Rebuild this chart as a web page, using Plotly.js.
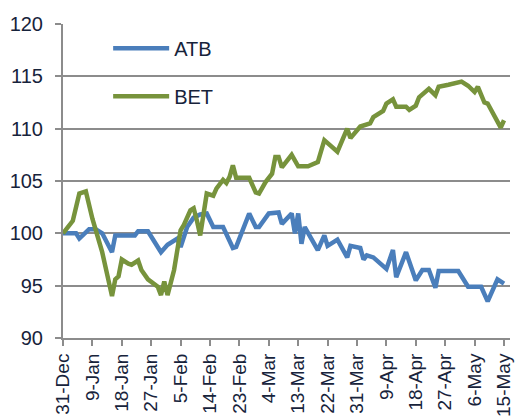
<!DOCTYPE html>
<html>
<head>
<meta charset="utf-8">
<script src="https://cdn.plot.ly/plotly-3.0.1.min.js"></script>
<style>html,body{margin:0;padding:0;background:#fff}#chart{width:516px;height:416px}</style>
</head>
<body>
<div id="chart"></div>
<script>
const atbDates = ["2014-12-31","2015-01-04","2015-01-05","2015-01-08","2015-01-10","2015-01-12","2015-01-15","2015-01-16","2015-01-22","2015-01-23","2015-01-26","2015-01-30","2015-02-01","2015-02-04","2015-02-05","2015-02-07","2015-02-09","2015-02-11","2015-02-13","2015-02-15","2015-02-18","2015-02-21","2015-02-22","2015-02-26","2015-02-28","2015-03-01","2015-03-04","2015-03-07","2015-03-08","2015-03-11","2015-03-12","2015-03-13","2015-03-14","2015-03-15","2015-03-19","2015-03-21","2015-03-22","2015-03-25","2015-03-28","2015-03-29","2015-04-01","2015-04-02","2015-04-03","2015-04-05","2015-04-09","2015-04-11","2015-04-12","2015-04-15","2015-04-18","2015-04-20","2015-04-22","2015-04-24","2015-04-25","2015-05-01","2015-05-04","2015-05-08","2015-05-10","2015-05-13","2015-05-15"];
const atbValues = [100.0,100.0,99.5,100.4,100.4,100.0,98.2,99.8,99.8,100.2,100.2,98.2,98.9,99.5,98.7,100.6,101.5,101.8,101.9,100.6,100.6,98.6,98.7,101.9,100.6,100.6,101.9,102.0,100.9,101.9,100.0,101.9,99.0,100.6,98.4,99.8,98.8,99.4,97.7,98.8,98.6,97.5,97.9,97.7,96.6,98.4,95.8,98.2,95.5,96.5,96.5,94.8,96.4,96.4,94.9,94.9,93.5,95.6,95.2];
const betDates = ["2014-12-31","2015-01-03","2015-01-05","2015-01-07","2015-01-09","2015-01-10","2015-01-12","2015-01-15","2015-01-16","2015-01-17","2015-01-18","2015-01-20","2015-01-21","2015-01-23","2015-01-24","2015-01-26","2015-01-29","2015-01-30","2015-01-31","2015-02-01","2015-02-03","2015-02-05","2015-02-06","2015-02-08","2015-02-09","2015-02-10","2015-02-11","2015-02-13","2015-02-15","2015-02-16","2015-02-18","2015-02-19","2015-02-20","2015-02-21","2015-02-22","2015-02-26","2015-02-28","2015-03-01","2015-03-03","2015-03-05","2015-03-06","2015-03-07","2015-03-08","2015-03-11","2015-03-13","2015-03-16","2015-03-19","2015-03-21","2015-03-25","2015-03-28","2015-03-29","2015-04-01","2015-04-04","2015-04-05","2015-04-08","2015-04-09","2015-04-11","2015-04-12","2015-04-15","2015-04-16","2015-04-18","2015-04-19","2015-04-22","2015-04-24","2015-04-25","2015-04-28","2015-05-02","2015-05-04","2015-05-06","2015-05-07","2015-05-09","2015-05-10","2015-05-14","2015-05-15"];
const betValues = [100.0,101.2,103.8,104.0,101.4,100.4,98.2,94.0,95.6,95.9,97.5,97.1,97.0,97.4,96.5,95.6,94.9,94.1,95.4,94.1,96.5,100.3,100.8,102.2,102.4,101.2,99.8,103.8,103.6,104.3,105.1,104.8,105.4,106.5,105.3,105.3,103.9,103.8,104.9,105.7,107.3,107.3,106.3,107.5,106.4,106.4,106.8,108.9,107.8,110.0,109.1,110.2,110.5,111.1,111.7,112.4,112.8,112.1,112.1,111.8,112.2,113.0,113.8,113.2,114.0,114.2,114.5,114.1,113.5,114.0,112.5,112.4,110.1,110.8];
const tickDates = ["2014-12-31","2015-01-09","2015-01-18","2015-01-27","2015-02-05","2015-02-14","2015-02-23","2015-03-04","2015-03-13","2015-03-22","2015-03-31","2015-04-09","2015-04-18","2015-04-27","2015-05-06","2015-05-15"];
const tickLabels = ["31-Dec","9-Jan","18-Jan","27-Jan","5-Feb","14-Feb","23-Feb","4-Mar","13-Mar","22-Mar","31-Mar","9-Apr","18-Apr","27-Apr","6-May","15-May"];
const seriesNames = ["ATB","BET"];

const textColor = "#17233b";
const gridColor = "#8c8c8c";
const traces = [
  {x: atbDates, y: atbValues, name: seriesNames[0], type: "scatter", mode: "lines",
   line: {color: "#4a7ebb", width: 4.5}, legendgroup: "a"},
  {x: betDates, y: betValues, name: seriesNames[1], type: "scatter", mode: "lines",
   line: {color: "#77933c", width: 4.5}, legendgroup: "b"}
];
const layout = {
  width: 516, height: 416,
  margin: {l: 63, r: 6, t: 24, b: 78},
  paper_bgcolor: "#fff", plot_bgcolor: "#fff",
  font: {family: "Liberation Sans, Arial, sans-serif", color: textColor},
  showlegend: true,
  legend: {x: 0.101, y: 0.985, xanchor: "left", yanchor: "top", bgcolor: "rgba(0,0,0,0)",
           font: {size: 20, color: textColor}, traceorder: "grouped", tracegroupgap: 19, itemwidth: 56},
  xaxis: {type: "date", range: ["2014-12-31", "2015-05-16 20:00"],
          tickvals: tickDates, ticktext: tickLabels, tickangle: -90,
          tickfont: {size: 19, color: textColor},
          showgrid: false, showline: true, linecolor: gridColor, linewidth: 2,
          ticks: "outside", ticklen: 6, tickcolor: gridColor, tickwidth: 2, zeroline: false},
  yaxis: {range: [90, 120], dtick: 5, tick0: 90,
          tickfont: {size: 20, color: textColor},
          showgrid: true, gridcolor: gridColor, gridwidth: 2,
          showline: true, linecolor: gridColor, linewidth: 2,
          ticks: "outside", ticklen: 6, tickcolor: gridColor, tickwidth: 2,
          ticklabelstandoff: 8, zeroline: false}
};
Plotly.newPlot("chart", traces, layout, {displayModeBar: false, staticPlot: true});
</script>
</body>
</html>
